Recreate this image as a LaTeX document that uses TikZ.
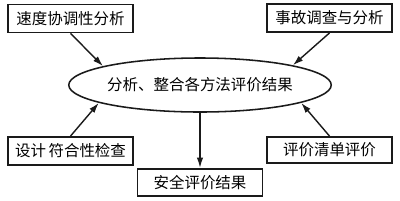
\documentclass[tikz,border=0pt]{standalone}
\usepackage{fontspec}
\setmainfont{Noto Sans CJK SC}
\usepackage{tikz}
\usetikzlibrary{arrows.meta,positioning,shapes.geometric}
\definecolor{inkline}{HTML}{1A1A1A}
\tikzset{
  pbox/.style={rectangle, draw=inkline, line width=1.3pt, fill=white,
               align=center, font=\fontsize{11}{13}\selectfont,
               minimum width=3.125cm, minimum height=0.7cm, inner sep=1pt},
  hub/.style={ellipse, draw=inkline, line width=1.1pt, inner sep=0pt,
              font=\fontsize{11}{13}\selectfont,
              minimum width=5.9cm, minimum height=1.35cm},
  arr/.style={-{Latex[length=2.6mm,width=1.6mm]}, line width=1pt, draw=inkline},
}
\begin{document}
\begin{tikzpicture}[x=0.025cm, y=-0.025cm, node distance=8mm]
    \useasboundingbox (0,0) rectangle (400,200);
    \node[hub] (ell) at (200,85) {分析、整合各方法评价结果};
    \node[pbox] (spd) at (70.5,18.5) {速度协调性分析};
    \node[pbox] (acc) at (329.5,18) {事故调查与分析};
    \node[pbox] (dsn) at (70.5,151) {设计\,符合性检查};
    \node[pbox, minimum height=0.65cm] (chk) at (329.5,150) {评价清单评价};
    \node[pbox, minimum height=0.68cm, below=1.38cm of ell] (res) {安全评价结果};
    \draw[arr] (spd.south) -- (ell.169);
    \draw[arr] (acc.south) -- (ell.12);
    \draw[arr] (dsn.north) -- (ell.190);
    \draw[arr] (chk.north) -- (ell.350);
    \draw[arr] (ell.south) -- (res.north);
  \end{tikzpicture}
\end{document}
